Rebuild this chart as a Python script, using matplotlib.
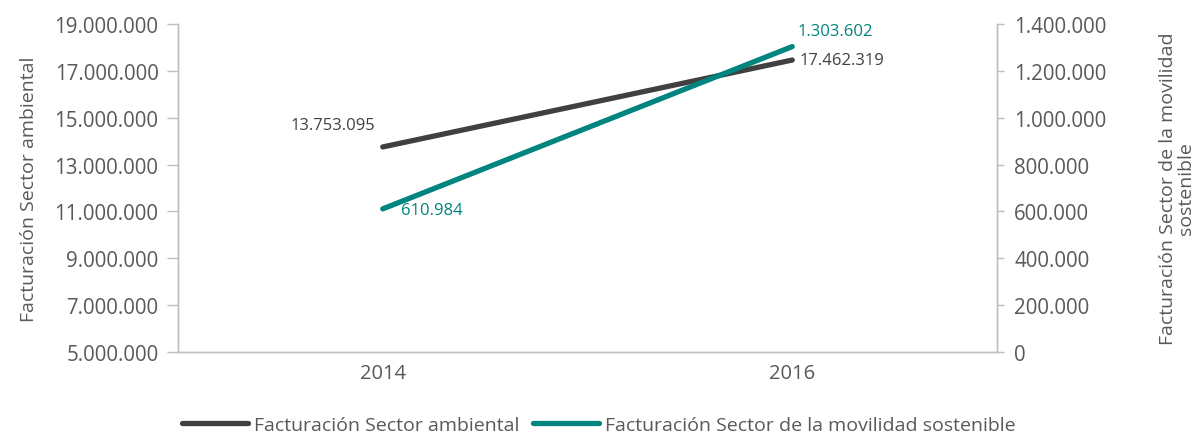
import matplotlib
matplotlib.use("Agg")
import matplotlib.pyplot as plt
from matplotlib.ticker import FuncFormatter

years = ["2014", "2016"]
ambiental = [13753095, 17462319]
movilidad = [610984, 1303602]
left_ticks = [5000000, 7000000, 9000000, 11000000, 13000000, 15000000, 17000000, 19000000]
right_ticks = [0, 200000, 400000, 600000, 800000, 1000000, 1200000, 1400000]

DARK = "#404040"
TEAL = "#00847F"
GRID = "#BFBFBF"
TEXT = "#595959"

plt.rcParams["font.family"] = ["Open Sans", "DejaVu Sans"]


def fmt(v):
    return f"{int(round(v)):,}".replace(",", ".")


fig = plt.figure(figsize=(11.98, 4.35), dpi=100)
ax = fig.add_axes([0.1486, 0.1885, 0.6836, 0.754])
ax2 = ax.twinx()

x = [0, 1]
la, = ax.plot(x, ambiental, color=DARK, lw=3.8, solid_capstyle="round",
              label="Facturación Sector ambiental")
lm, = ax2.plot(x, movilidad, color=TEAL, lw=3.8, solid_capstyle="round",
               label="Facturación Sector de la movilidad sostenible")

ax.set_xlim(-0.5, 1.5)
ax.set_ylim(left_ticks[0], left_ticks[-1])
ax2.set_ylim(right_ticks[0], right_ticks[-1])
ax.set_yticks(left_ticks)
ax2.set_yticks(right_ticks)
ax.set_xticks(x)
ax.set_xticklabels(years)
ax.yaxis.set_major_formatter(FuncFormatter(lambda v, p: fmt(v)))
ax2.yaxis.set_major_formatter(FuncFormatter(lambda v, p: fmt(v)))

for a in (ax, ax2):
    for s in a.spines.values():
        s.set_color(GRID)
        s.set_linewidth(1.0)
    a.spines["top"].set_visible(False)
ax.tick_params(axis="y", length=8, width=1, color=GRID, labelsize=14.8, labelcolor=TEXT, pad=6)
ax2.tick_params(axis="y", length=5, width=1, color=GRID, labelsize=14.8, labelcolor=TEXT, pad=7.5)
ax.tick_params(axis="x", length=0, labelsize=14.5, labelcolor=TEXT, pad=8)

ax.set_ylabel("Facturación Sector ambiental", fontsize=14, color=TEXT, labelpad=12)
ax2.set_ylabel("Facturación Sector de la movilidad\nsostenible", fontsize=14,
               color=TEXT, labelpad=38, linespacing=0.95)

# value labels
ax.annotate(fmt(ambiental[0]), (x[0], ambiental[0]), xytext=(-36, 16),
            textcoords="offset points", ha="center", va="center",
            fontsize=12, color="#404040")
ax.annotate(fmt(ambiental[1]), (x[1], ambiental[1]), xytext=(5, 0),
            textcoords="offset points", ha="left", va="center",
            fontsize=12, color="#404040")
ax2.annotate(fmt(movilidad[0]), (x[0], movilidad[0]), xytext=(13, -1),
             textcoords="offset points", ha="left", va="center",
             fontsize=12, color=TEAL)
ax2.annotate(fmt(movilidad[1]), (x[1], movilidad[1]), xytext=(31, 11.5),
             textcoords="offset points", ha="center", va="center",
             fontsize=12, color=TEAL)

fig.legend(handles=[la, lm], loc="lower center", bbox_to_anchor=(0.5, -0.04),
           ncol=2, frameon=False, fontsize=14, handlelength=3.4,
           handletextpad=0.3, columnspacing=0.7, labelcolor=TEXT)

fig.savefig("out.png", dpi=100)
